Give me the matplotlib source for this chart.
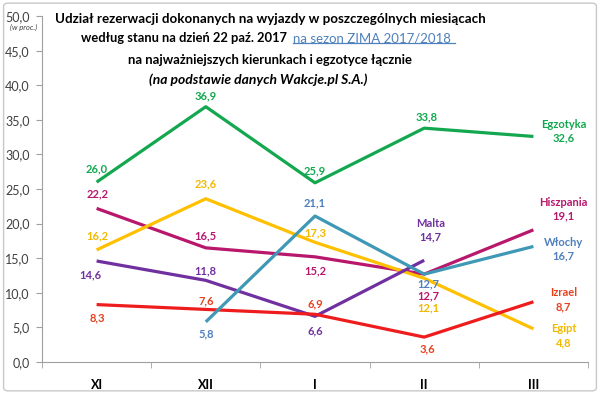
import matplotlib.pyplot as plt
from matplotlib.patches import FancyBboxPatch

plt.rcParams['font.family'] = ['Lato', 'DejaVu Sans']

months = ["XI", "XII", "I", "II", "III"]
egzotyka = [26.0, 36.9, 25.9, 33.8, 32.6]
hiszpania = [22.2, 16.5, 15.2, 12.7, 19.1]
egipt = [16.2, 23.6, 17.3, 12.1, 4.8]
malta = [14.6, 11.8, 6.6, 14.7, None]
izrael = [8.3, 7.6, 6.9, 3.6, 8.7]
wlochy = [None, 5.8, 21.1, 12.7, 16.7]
y_ticks = [0, 5, 10, 15, 20, 25, 30, 35, 40, 45, 50]

# (name, values, line colour, label colour, label offsets in px per point)
series = [
    ("Egzotyka", egzotyka, "#13A84F", "#13A84F",
     [(0, 13), (0, 11), (0, 12), (2, 11), None]),
    ("Hiszpania", hiszpania, "#B8176C", "#B8176C",
     [(1, 15), (0, 12), (0, -14), (4, -22), None]),
    ("Egipt", egipt, "#FFC000", "#F2B800",
     [(1, 14), (0, 15), (0, 9), (4, -30), None]),
    ("Malta", malta, "#7030A0", "#7030A0",
     [(-6, -14), (0, 10), (0, -14), None, None]),
    ("Izrael", izrael, "#EE1C1C", "#E8401C",
     [(1, -13), (0, 9), (0, 10), (3, -12), None]),
    ("Włochy", wlochy, "#3F98B5", "#4F7FBD",
     [None, (0, -12), (0, 13), (4, -10), None]),
]

end_offsets = {
    "Egzotyka": (30, 5),
    "Hiszpania": (30, 21),
    "Egipt": (30, -7),
    "Malta": (6, 30),
    "Izrael": (30, 2),
    "Włochy": (30, -3),
}

fig = plt.figure(figsize=(6, 3.94), dpi=100)
ax = fig.add_axes([0.07, 0.0812, 0.91, 0.878])

x = list(range(len(months)))
for name, vals, color, lcolor, offs in series:
    xs = [i for i, v in zip(x, vals) if v is not None]
    ys = [v for v in vals if v is not None]
    ax.plot(xs, ys, color=color, lw=2.3, solid_capstyle="butt", zorder=3)
    for i, v, off in zip(x, vals, offs):
        if v is None or off is None:
            continue
        ax.annotate(f"{v:.1f}".replace(".", ","), (i, v), xytext=(off[0] * 0.72, off[1] * 0.72),
                    textcoords="offset points", ha="center", va="center",
                    fontsize=8, fontweight="bold", color=lcolor)
    # end-of-line label: name + value
    dx, dy = end_offsets[name]
    ax.annotate(f"{name}\n{ys[-1]:.1f}".replace(".", ","), (xs[-1], ys[-1]),
                xytext=(dx * 0.72, dy * 0.72),
                textcoords="offset points", ha="center", va="center",
                fontsize=8, fontweight="bold", color=lcolor, linespacing=1.3)

ax.set_xlim(-0.5, 4.5)
ax.set_ylim(0, 50)
ax.set_yticks(y_ticks)
ax.set_yticklabels([f"{t:.1f}".replace(".", ",") for t in y_ticks], fontsize=9, color="#404040")
ax.set_xticks(x)
ax.set_xticklabels(months, fontsize=9, fontweight="bold")
ax.tick_params(axis="x", length=0, pad=12)
ax.set_xticks([-0.5, 0.5, 1.5, 2.5, 3.5, 4.5], minor=True)
ax.tick_params(axis="x", which="minor", length=4, color="#A0A0A0")
ax.tick_params(axis="y", length=4, color="#A0A0A0", pad=5)
for s in ["top", "right"]:
    ax.spines[s].set_visible(False)
ax.spines["left"].set_color("#A0A0A0")
ax.spines["bottom"].set_color("#A0A0A0")

fig.text(0.017, 0.925, "(w proc.)", fontsize=5.5, style="italic", color="#404040")

cx = 0.45
fig.text(cx, 0.951, "Udział rezerwacji dokonanych na wyjazdy w poszczególnych miesiącach",
         ha="center", va="center", fontsize=9.6, fontweight="bold")
t1 = fig.text(0.484, 0.903, "według stanu na dzień 22 paź. 2017 ",
              ha="right", va="center", fontsize=9.3, fontweight="bold")
t2 = fig.text(0.489, 0.903, "na sezon ZIMA 2017/2018 ",
              ha="left", va="center", fontsize=9.5, color="#4F81BD")
fig.text(cx, 0.848, "na najważniejszych kierunkach i egzotyce łącznie",
         ha="center", va="center", fontsize=9.4, fontweight="bold")
fig.text(0.43, 0.797, "(na podstawie danych Wakcje.pl S.A.)",
         ha="center", va="center", fontsize=10, fontweight="bold", style="italic")

fig.canvas.draw()
bb = t2.get_window_extent().transformed(fig.transFigure.inverted())
fig.add_artist(plt.Line2D([bb.x0, bb.x1], [bb.y0 + 0.004, bb.y0 + 0.004],
                          transform=fig.transFigure, color="#4F81BD", lw=0.9))

fig.patches.append(FancyBboxPatch((0.006, 0.008), 0.988, 0.984, boxstyle="round,pad=0,rounding_size=0.008",
                                  transform=fig.transFigure, fill=False, ec="#C8C8C8", lw=1.0))

fig.savefig("out.png", dpi=100)
